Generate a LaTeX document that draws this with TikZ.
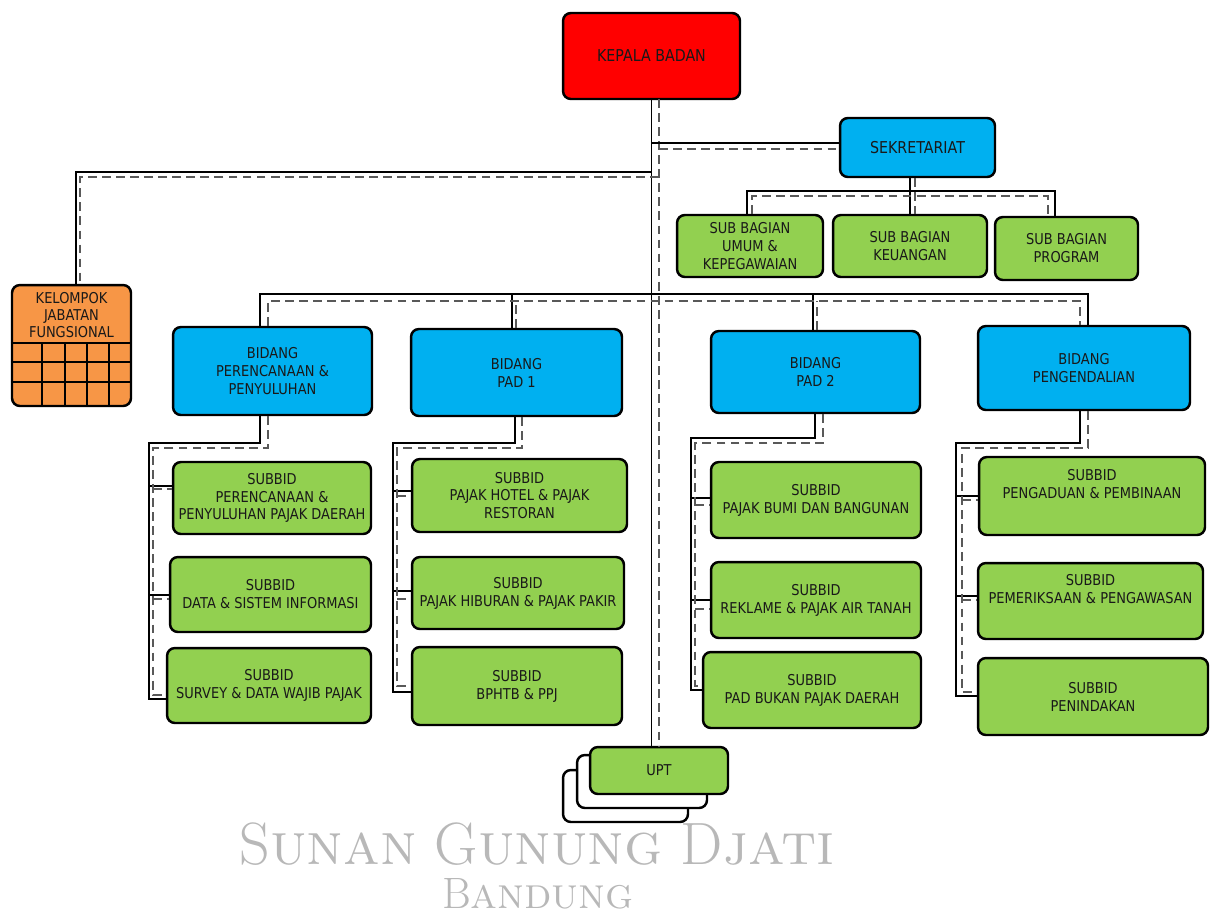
\documentclass[tikz,border=0pt]{standalone}
\usepackage{fontspec}
\newfontfamily\orgfont[FakeStretch=0.87]{DejaVu Sans}
\definecolor{kepalared}{RGB}{255,0,0}
\definecolor{bidangblue}{RGB}{0,176,240}
\definecolor{subgreen}{RGB}{146,208,80}
\definecolor{jabatanorange}{RGB}{247,150,70}
\begin{document}
\begin{tikzpicture}[x=0.02cm,y=-0.02cm,
  kotak/.style={draw=black,line width=1.4pt,rounded corners=4.5pt,align=center,inner sep=1pt,
    font=\orgfont\fontsize{8.5}{10.2}\selectfont,text=black!90},
  merah/.style={kotak,fill=kepalared,font=\orgfont\fontsize{9.3}{11}\selectfont},
  biru/.style={kotak,fill=bidangblue},
  hijau/.style={kotak,fill=subgreen},
  bayang/.style={kotak,fill=white},
  garis/.style={line width=0.9pt,black},
  putus/.style={line width=0.9pt,black!65,dash pattern=on 5pt off 3pt},
  tandaair/.style={anchor=base,inner sep=0pt,text=black!28}]

\useasboundingbox (0,0) rectangle (1216,920);

% pimpinan dan sekretariat
\node[merah, minimum width=3.54cm, minimum height=1.72cm] (kepala) at (651.5,56) {KEPALA BADAN};
\node[biru, minimum width=3.1cm, minimum height=1.18cm, font=\orgfont\fontsize{9.3}{11}\selectfont] (sekr) at (917.5,147.5) {SEKRETARIAT};
\node[hijau, minimum width=2.92cm, minimum height=1.24cm] (sbu) at (750,246) {SUB BAGIAN\\UMUM \&\\KEPEGAWAIAN};
\node[hijau, minimum width=3.08cm, minimum height=1.24cm] (sbk) at (910,246) {SUB BAGIAN\\KEUANGAN};
\node[hijau, minimum width=2.86cm, minimum height=1.26cm] (sbp) at (1066.5,248.5) {SUB BAGIAN\\PROGRAM};

% kelompok jabatan fungsional
\node[kotak, fill=jabatanorange, minimum width=2.38cm, minimum height=2.42cm] (kjf) at (71.5,345.5) {};
\node[align=center, font=\orgfont\fontsize{8.5}{9.8}\selectfont, text=black!90] (kjftext) at (71.5,315) {KELOMPOK\\JABATAN\\FUNGSIONAL};
\foreach \gy in {343,362,382}
  \draw[line width=1.2pt] (kjf.west |- 0,\gy) -- (kjf.east |- 0,\gy);
\foreach \gx in {42,65,87,109}
  \draw[line width=1.2pt] (\gx,343) -- (kjf.south -| \gx,0);

% bidang
\node[biru, minimum width=3.98cm, minimum height=1.76cm] (bid1) at (272.5,371) {BIDANG\\PERENCANAAN \&\\PENYULUHAN};
\node[biru, minimum width=4.22cm, minimum height=1.74cm] (bid2) at (516.5,372.5) {BIDANG\\PAD 1};
\node[biru, minimum width=4.18cm, minimum height=1.64cm] (bid3) at (815.5,372) {BIDANG\\PAD 2};
\node[biru, minimum width=4.24cm, minimum height=1.68cm] (bid4) at (1084,368) {BIDANG\\PENGENDALIAN};

% subbid
\node[hijau, minimum width=3.96cm, minimum height=1.44cm] (s11) at (272,498) {SUBBID\\PERENCANAAN \&\\PENYULUHAN PAJAK DAERAH};
\node[hijau, minimum width=4.02cm, minimum height=1.5cm] (s12) at (270.5,594.5) {SUBBID\\DATA \& SISTEM INFORMASI};
\node[hijau, minimum width=4.08cm, minimum height=1.5cm] (s13) at (269,685.5) {SUBBID\\SURVEY \& DATA WAJIB PAJAK};

\node[hijau, minimum width=4.3cm, minimum height=1.46cm] (s21) at (519.5,495.5) {SUBBID\\PAJAK HOTEL \& PAJAK\\RESTORAN};
\node[hijau, minimum width=4.24cm, minimum height=1.44cm] (s22) at (518,593) {SUBBID\\PAJAK HIBURAN \& PAJAK PAKIR};
\node[hijau, minimum width=4.2cm, minimum height=1.56cm] (s23) at (517,686) {SUBBID\\BPHTB \& PPJ};

\node[hijau, minimum width=4.2cm, minimum height=1.52cm] (s31) at (816,500) {SUBBID\\PAJAK BUMI DAN BANGUNAN};
\node[hijau, minimum width=4.2cm, minimum height=1.52cm] (s32) at (816,600) {SUBBID\\REKLAME \& PAJAK AIR TANAH};
\node[hijau, minimum width=4.36cm, minimum height=1.52cm] (s33) at (812,690) {SUBBID\\PAD BUKAN PAJAK DAERAH};

\node[hijau, minimum width=4.52cm, minimum height=1.56cm] (s41) at (1092,496) {SUBBID\\PENGADUAN \& PEMBINAAN\\\strut};
\node[hijau, minimum width=4.5cm, minimum height=1.52cm] (s42) at (1090.5,601) {SUBBID\\PEMERIKSAAN \& PENGAWASAN\\\strut};
\node[hijau, minimum width=4.6cm, minimum height=1.54cm] (s43) at (1093,696.5) {SUBBID\\PENINDAKAN};

% upt (bertumpuk)
\node[bayang, minimum width=2.5cm, minimum height=1.04cm] (upt3) at (625.5,796) {};
\node[bayang, minimum width=2.6cm, minimum height=1.06cm] (upt2) at (642,781.5) {};
\node[hijau, minimum width=2.76cm, minimum height=0.94cm] (upt) at (659,770.5) {UPT};

% garis komando (solid) dan koordinasi (putus-putus)
\coordinate (td) at (659,99);
\draw[garis] (kepala.south) -- (kepala.south |- upt.north);
\draw[putus] (td) -- (td |- upt.north);

\draw[garis] (kepala.south |- 0,143) -- (sekr.west |- 0,143);
\draw[putus] (td |- 0,149) -- (sekr.west |- 0,149);

\draw[garis] (kepala.south |- 0,172) -| (kjf.north -| 76,0);
\draw[putus] (td |- 0,177) -| (kjf.north -| 80,0);

\draw[garis] (sekr.south -| sbk.north) -- (sbk.north);
\draw[putus] (sekr.south -| 915,0) -- (sbk.north -| 915,0);
\draw[garis] (sbu.north -| 747,0) -- ++(0,-23) -| (sbp.north -| 1055,0);
\draw[putus] (sbu.north -| 752,0) -- ++(0,-18) -| (sbp.north -| 1048,0);

\draw[garis] (bid1.north -| 260,0) -- ++(0,-32) -| (bid4.north -| 1088,0);
\draw[garis] (bid2.north -| 512,0) -- ++(0,-34);
\draw[garis] (bid3.north -| 813,0) -- ++(0,-36);
\draw[putus] (bid1.north -| 268,0) -- ++(0,-25) -| (bid4.north -| 1080,0);
\draw[putus] (bid2.north -| 516,0) -- ++(0,-27);
\draw[putus] (bid3.north -| 817,0) -- ++(0,-29);

% bidang ke subbid
\coordinate (k1s) at (149,443);
\coordinate (k1d) at (153,448);
\draw[garis] (bid1.south -| 260,0) |- (k1s) |- (s13.west |- 0,699);
\draw[garis] (k1s |- 0,486) -- (s11.west |- 0,486);
\draw[garis] (k1s |- 0,595) -- (s12.west |- 0,595);
\draw[putus] (bid1.south -| 268,0) |- (k1d) |- (s13.west |- 0,695);
\draw[putus] (k1d |- 0,489) -- (s11.west |- 0,489);
\draw[putus] (k1d |- 0,599) -- (s12.west |- 0,599);

\coordinate (k2s) at (393,443);
\coordinate (k2d) at (397,448);
\draw[garis] (bid2.south -| 515,0) |- (k2s) |- (s23.west |- 0,692);
\draw[garis] (k2s |- 0,491) -- (s21.west |- 0,491);
\draw[garis] (k2s |- 0,591) -- (s22.west |- 0,591);
\draw[putus] (bid2.south -| 522,0) |- (k2d) |- (s23.west |- 0,686);
\draw[putus] (k2d |- 0,496) -- (s21.west |- 0,496);
\draw[putus] (k2d |- 0,599) -- (s22.west |- 0,599);

\coordinate (k3s) at (691,438);
\coordinate (k3d) at (695,443);
\draw[garis] (bid3.south -| 815,0) |- (k3s) |- (s33.west |- 0,690);
\draw[garis] (k3s |- 0,498) -- (s31.west |- 0,498);
\draw[garis] (k3s |- 0,600) -- (s32.west |- 0,600);
\draw[putus] (bid3.south -| 823,0) |- (k3d) |- (s33.west |- 0,686);
\draw[putus] (k3d |- 0,505) -- (s31.west |- 0,505);
\draw[putus] (k3d |- 0,609) -- (s32.west |- 0,609);

\coordinate (k4s) at (956,443);
\coordinate (k4d) at (962,448);
\draw[garis] (bid4.south -| 1080,0) |- (k4s) |- (s43.west |- 0,696);
\draw[garis] (k4s |- 0,496) -- (s41.west |- 0,496);
\draw[garis] (k4s |- 0,596) -- (s42.west |- 0,596);
\draw[putus] (bid4.south -| 1088,0) |- (k4d) |- (s43.west |- 0,692);
\draw[putus] (k4d |- 0,500) -- (s41.west |- 0,500);
\draw[putus] (k4d |- 0,600) -- (s42.west |- 0,600);

% tanda air
\node[tandaair, font=\fontsize{34}{34}\selectfont] (sgd) at (537,864) {S\textsc{unan} G\textsc{unung} D\textsc{jati}};
\node[tandaair, font=\fontsize{25}{25}\selectfont] (bdg) at (538,908) {B\textsc{andung}};

\end{tikzpicture}
\end{document}
